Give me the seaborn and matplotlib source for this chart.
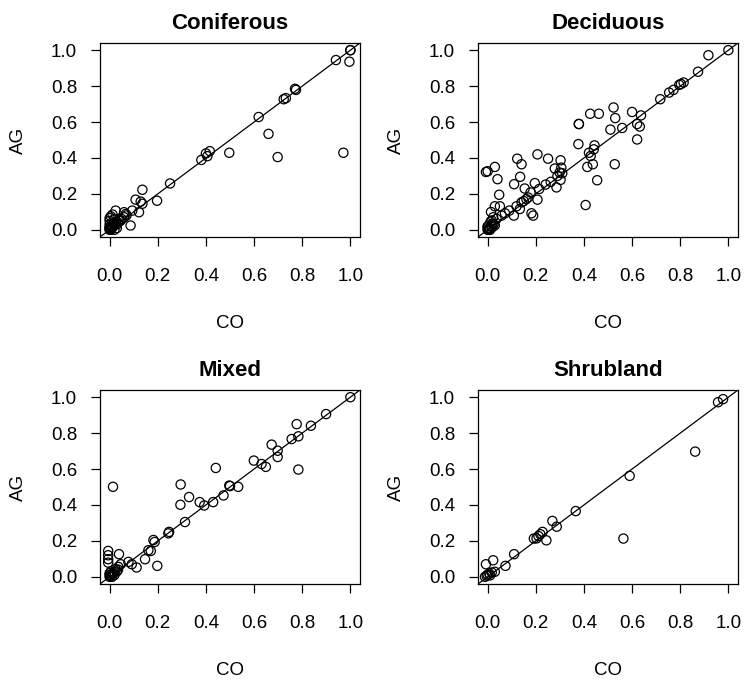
import matplotlib
matplotlib.use("Agg")
import matplotlib.pyplot as plt
import numpy as np
import pandas as pd
import seaborn as sns

# Cover-type panels: CO (x) versus AG (y) proportions
coniferous_co = [1.0, 1.0, 0.94, 0.996, 0.774, 0.77, 0.732, 0.723, 0.619, 0.66,
                 0.698, 0.971, 0.497, 0.40, 0.406, 0.416, 0.381, 0.251, 0.136,
                 0.197, 0.108, 0.129, 0.136, 0.122, 0.094, 0.087, 0.025, 0.06,
                 0.067, 0.0, 0.0, 0.0, 0.005, 0.01, 0.0, 0.02, 0.03, 0.04, 0.05,
                 0.06, 0.07, 0.03, 0.02, 0.01, 0.005, 0.0, 0.0, 0.015, 0.025,
                 0.035, 0.045, 0.01, 0.02, 0.0, 0.005, 0.012]
coniferous_ag = [1.0, 1.0, 0.945, 0.936, 0.779, 0.785, 0.733, 0.727, 0.628, 0.534,
                 0.405, 0.429, 0.429, 0.425, 0.41, 0.438, 0.389, 0.258, 0.223,
                 0.162, 0.168, 0.157, 0.145, 0.098, 0.107, 0.024, 0.107, 0.098,
                 0.088, 0.0, 0.005, 0.01, 0.02, 0.04, 0.05, 0.03, 0.03, 0.05, 0.06,
                 0.07, 0.08, 0.01, 0.0, 0.01, 0.0, 0.03, 0.015, 0.02, 0.04,
                 0.04, 0.05, 0.025, 0.06, 0.065, 0.075, 0.085]

deciduous_co = [1.0, 0.917, 0.874, 0.814, 0.803, 0.796, 0.772, 0.754, 0.717, 0.637,
                0.60, 0.523, 0.53, 0.462, 0.426, 0.379, 0.379, 0.51, 0.559, 0.621,
                0.632, 0.621, 0.377, 0.444, 0.441, 0.421, 0.428, 0.437, 0.414,
                0.528, 0.455, 0.407, 0.303, 0.279, 0.306, 0.299, 0.31, 0.29, 0.303,
                0.286, 0.251, 0.207, 0.123, 0.141, 0.135, 0.11, 0.154, 0.196,
                0.214, 0.241, 0.262, 0.207, 0.178, 0.168, 0.161, 0.15, 0.141,
                0.134, 0.12, 0.109, 0.182, 0.189, -0.007, 0.0, 0.03, 0.041, 0.048,
                0.03, 0.051, 0.014, 0.09, 0.072, 0.058, 0.037, 0.023, 0.017,
                0.0, 0.0, 0.005, 0.01, 0.015, 0.02, 0.025, 0.03, 0.0, 0.01, 0.02,
                0.005, 0.012]
deciduous_ag = [1.0, 0.972, 0.880, 0.820, 0.812, 0.807, 0.779, 0.764, 0.727, 0.637,
                0.656, 0.681, 0.622, 0.646, 0.646, 0.589, 0.589, 0.558, 0.567, 0.589,
                0.575, 0.503, 0.477, 0.47, 0.448, 0.429, 0.411, 0.365, 0.35,
                0.365, 0.276, 0.138, 0.387, 0.341, 0.346, 0.319, 0.315, 0.30, 0.278,
                0.236, 0.396, 0.42, 0.396, 0.365, 0.295, 0.254, 0.23, 0.26,
                0.227, 0.252, 0.267, 0.168, 0.208, 0.18, 0.171, 0.16, 0.153,
                0.116, 0.131, 0.079, 0.092, 0.079, 0.322, 0.326, 0.35, 0.282, 0.195,
                0.131, 0.131, 0.099, 0.107, 0.092, 0.079, 0.061, 0.07, 0.052,
                0.0, 0.01, 0.0, 0.01, 0.02, 0.015, 0.03, 0.025, 0.02, 0.0, 0.035,
                0.005, 0.045]

mixed_co = [1.0, 0.899, 0.836, 0.777, 0.784, 0.756, 0.673, 0.698, 0.698, 0.599,
            0.631, 0.649, 0.784, 0.441, 0.497, 0.50, 0.534, 0.473, 0.43, 0.393,
            0.374, 0.33, 0.295, 0.294, 0.313, 0.247, 0.244, 0.182, 0.187, 0.171,
            0.161, 0.147, 0.198, 0.014, -0.006, -0.006, -0.006, -0.006, 0.039,
            0.078, 0.092, 0.112, 0.046, 0.036, 0.025, 0.0, 0.0, 0.005, 0.01,
            0.015, 0.02, 0.03, 0.0, 0.01, 0.02, 0.035, 0.005]
mixed_ag = [1.0, 0.906, 0.841, 0.850, 0.782, 0.767, 0.736, 0.702, 0.667, 0.647,
            0.628, 0.612, 0.597, 0.606, 0.508, 0.505, 0.501, 0.453, 0.416, 0.397,
            0.416, 0.444, 0.514, 0.401, 0.305, 0.25, 0.242, 0.205, 0.194, 0.144,
            0.148, 0.098, 0.061, 0.501, 0.144, 0.12, 0.098, 0.079, 0.126,
            0.083, 0.07, 0.052, 0.07, 0.055, 0.043, 0.0, 0.01, 0.005, 0.015,
            0.02, 0.025, 0.03, 0.02, 0.0, 0.01, 0.04, 0.03]

shrubland_co = [0.978, 0.957, 0.862, 0.59, 0.564, 0.366, 0.269, 0.287, 0.228,
                0.219, 0.211, 0.192, 0.203, 0.244, 0.11, 0.074, 0.023, -0.007,
                0.03, 0.017, 0.007, -0.004, -0.011, 0.0, 0.01]
shrubland_ag = [0.989, 0.972, 0.697, 0.562, 0.213, 0.366, 0.311, 0.279, 0.25,
                0.237, 0.227, 0.213, 0.214, 0.203, 0.126, 0.061, 0.092, 0.07,
                0.028, 0.024, 0.018, 0.006, 0.0, 0.012, 0.008]

panel_titles = ["Coniferous", "Deciduous", "Mixed", "Shrubland"]
tick_values = [0.0, 0.2, 0.4, 0.6, 0.8, 1.0]
tick_labels = ["0.0", "0.2", "0.4", "0.6", "0.8", "1.0"]

frames = []
for name, co, ag in zip(panel_titles,
                        [coniferous_co, deciduous_co, mixed_co, shrubland_co],
                        [coniferous_ag, deciduous_ag, mixed_ag, shrubland_ag]):
    frames.append(pd.DataFrame({"cover": name, "CO": co, "AG": ag}))
data = pd.concat(frames, ignore_index=True)

sns.set_theme(style="ticks")
plt.rcParams["font.family"] = ["Liberation Sans Narrow", "Liberation Sans", "DejaVu Sans"]
plt.rcParams.update({
    "axes.linewidth": 0.9,
    "text.color": "black",
    "axes.labelcolor": "black",
    "axes.titlecolor": "black",
    "xtick.color": "black",
    "ytick.color": "black",
    "axes.edgecolor": "black",
})

W, H = 745, 682
fig = plt.figure(figsize=(W / 100, H / 100), dpi=100)

# panel boxes in pixel terms: (left, top) per panel, common width/height
box_w, box_h = 260, 194
origins = [(100, 43), (478, 43), (100, 390), (478, 390)]

for name, (px, py) in zip(panel_titles, origins):
    ax = fig.add_axes([px / W, 1 - (py + box_h) / H, box_w / W, box_h / H])
    sub = data[data["cover"] == name]
    sns.scatterplot(data=sub, x="CO", y="AG", ax=ax, marker="o", s=44,
                    facecolor="none", edgecolor="black", linewidth=0.9,
                    legend=False)
    ax.axline((0, 0), slope=1, color="black", linewidth=0.9, zorder=1)
    ax.set_xlim(-0.04, 1.04)
    ax.set_ylim(-0.04, 1.04)
    ax.set_xticks(tick_values)
    ax.set_xticklabels(tick_labels)
    ax.set_yticks(tick_values)
    ax.set_yticklabels(tick_labels)
    ax.tick_params(axis="both", direction="out", length=6.5, width=0.9,
                   labelsize=13.5, colors="black")
    ax.tick_params(axis="x", pad=16)
    ax.tick_params(axis="y", pad=10)
    for sp in ax.spines.values():
        sp.set_visible(True)
        sp.set_color("black")
    ax.set_title(name, fontsize=16, fontweight="bold", pad=10, color="black")
    ax.set_xlabel("CO", fontsize=13.5, color="black")
    ax.set_ylabel("AG", fontsize=13.5, color="black")
    ax.xaxis.set_label_coords(0.5, -0.40)
    ax.yaxis.set_label_coords(-0.28, 0.5)

fig.savefig("out.png", dpi=100, facecolor="white")
